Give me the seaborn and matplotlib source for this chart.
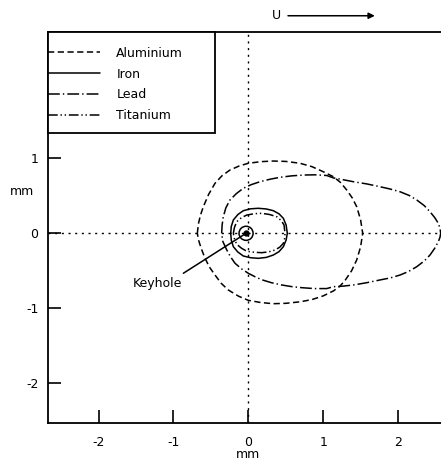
import matplotlib
matplotlib.use("Agg")
import matplotlib.pyplot as plt
from matplotlib.patches import Circle, Rectangle
import seaborn as sns
import pandas as pd

# Melt-pool outlines (mm), traced counter-clockwise from the leading edge
aluminium_x = [-0.681, -0.668, -0.640, -0.601, -0.530, -0.445, -0.350, -0.245, -0.120, 0.0, 0.170,
               0.334, 0.500, 0.691, 0.850, 1.002, 1.136, 1.230, 1.315, 1.390, 1.448, 1.500, 1.528,
               1.500, 1.448, 1.380, 1.292, 1.220, 1.136, 1.002, 0.850, 0.691, 0.500, 0.334, 0.170,
               0.0, -0.130, -0.267, -0.360, -0.445, -0.520, -0.578, -0.630, -0.665]
aluminium_y = [0.0, 0.120, 0.240, 0.355, 0.520, 0.668, 0.770, 0.845, 0.900, 0.935, 0.957,
               0.965, 0.960, 0.935, 0.890, 0.822, 0.756, 0.680, 0.578, 0.470, 0.355, 0.180, 0.0,
               -0.180, -0.356, -0.500, -0.630, -0.710, -0.770, -0.835, -0.885, -0.915, -0.935, -0.940, -0.925,
               -0.895, -0.840, -0.757, -0.670, -0.557, -0.450, -0.334, -0.200, -0.090]

iron_x = [-0.235, -0.228, -0.200, -0.140, -0.067, 0.030, 0.134, 0.240, 0.334, 0.410, 0.468, 0.505,
          0.521, 0.505, 0.468, 0.410, 0.334, 0.240, 0.134, 0.030, -0.067, -0.140, -0.200, -0.228]
iron_y = [0.0, 0.090, 0.178, 0.250, 0.302, 0.327, 0.334, 0.325, 0.302, 0.260, 0.200, 0.110,
          0.0, -0.090, -0.179, -0.245, -0.290, -0.322, -0.334, -0.326, -0.303, -0.250, -0.179, -0.090]

lead_x = [-0.356, -0.350, -0.334, -0.300, -0.245, -0.160, -0.067, 0.040, 0.156, 0.290, 0.424, 0.580,
          0.735, 0.890, 1.047, 1.136, 1.270, 1.403, 1.580, 1.759, 1.900, 2.027, 2.150, 2.250,
          2.350, 2.427, 2.490, 2.538, 2.560, 2.570, 2.560, 2.538, 2.490, 2.427, 2.350, 2.250,
          2.140, 2.027, 1.900, 1.759, 1.580, 1.403, 1.270, 1.136, 1.047, 0.880, 0.713, 0.580,
          0.446, 0.310, 0.179, 0.090, 0.0, -0.090, -0.178, -0.240, -0.289, -0.340]
lead_y = [0.0, 0.110, 0.222, 0.340, 0.445, 0.530, 0.601, 0.650, 0.689, 0.722, 0.748, 0.767,
          0.778, 0.781, 0.772, 0.740, 0.715, 0.689, 0.660, 0.622, 0.590, 0.555, 0.505, 0.445,
          0.370, 0.288, 0.210, 0.134, 0.070, 0.0, -0.055, -0.112, -0.200, -0.290, -0.370, -0.446,
          -0.510, -0.557, -0.595, -0.623, -0.660, -0.690, -0.705, -0.713, -0.738, -0.738, -0.726, -0.712,
          -0.690, -0.660, -0.620, -0.580, -0.534, -0.475, -0.400, -0.310, -0.220, -0.110]

titanium_x = [-0.200, -0.185, -0.155, -0.090, -0.020, 0.080, 0.179, 0.280, 0.379, 0.440, 0.477,
              0.490, 0.485, 0.468, 0.420, 0.357, 0.270, 0.179, 0.080, -0.020, -0.090, -0.155, -0.185]
titanium_y = [0.0, 0.080, 0.155, 0.210, 0.244, 0.262, 0.267, 0.252, 0.222, 0.170, 0.111,
              0.0, -0.070, -0.134, -0.185, -0.223, -0.248, -0.259, -0.253, -0.240, -0.200, -0.147, -0.075]

keyhole_x = -0.03
keyhole_y = 0.0
keyhole_r = 0.094

materials = ["Aluminium", "Iron", "Lead", "Titanium"]
outlines = {
    "Aluminium": (aluminium_x, aluminium_y),
    "Iron": (iron_x, iron_y),
    "Lead": (lead_x, lead_y),
    "Titanium": (titanium_x, titanium_y),
}
line_styles = {
    "Aluminium": (0, (4.5, 2.5)),
    "Iron": "-",
    "Lead": (0, (8.5, 2.2, 1.0, 2.2)),
    "Titanium": (0, (7.0, 2.0, 1.0, 2.0, 1.0, 2.0)),
}

x_ticks = [-2, -1, 0, 1, 2]
y_ticks = [-2, -1, 0, 1]

sns.set_theme(style="white")
plt.rcParams["font.family"] = ["DejaVu Sans"]
plt.rcParams["axes.unicode_minus"] = False
plt.rcParams["lines.scale_dashes"] = False
plt.rcParams["text.color"] = "black"
plt.rcParams["axes.labelcolor"] = "black"

fig = plt.figure(figsize=(4.41, 4.61), dpi=100)
ax = fig.add_axes([48 / 441, 38 / 461, 393 / 441, 391 / 461])

# Reference axes through the keyhole centre
ax.axhline(0, color="black", lw=1.0, linestyle=(0, (1.5, 3.3)), zorder=1)
ax.axvline(0, color="black", lw=1.0, linestyle=(0, (1.5, 3.3)), zorder=1)

for name in materials:
    xs, ys = outlines[name]
    df = pd.DataFrame({"x": list(xs) + [xs[0]], "y": list(ys) + [ys[0]]})
    sns.lineplot(data=df, x="x", y="y", sort=False, estimator=None, ax=ax,
                 color="black", lw=1.1, linestyle=line_styles[name], label=name, zorder=3)

ax.add_patch(Circle((keyhole_x, keyhole_y), keyhole_r, fill=False, ec="black", lw=1.1, zorder=4))
ax.plot([keyhole_x], [keyhole_y], "o", color="black", ms=3.5, zorder=5)

ax.annotate("Keyhole", xy=(keyhole_x, keyhole_y), xytext=(-1.22, -0.664),
            ha="center", va="center", fontsize=9, color="black",
            arrowprops=dict(arrowstyle="-", color="black", lw=1.1,
                            shrinkA=0, shrinkB=0, relpos=(0.93, 1.0)))

# Welding direction
ax.annotate("", xy=(1.69, 2.905), xytext=(0.53, 2.905), annotation_clip=False,
            arrowprops=dict(arrowstyle="-|>", color="black", lw=1.1, mutation_scale=9,
                            shrinkA=0, shrinkB=0))
ax.text(0.37, 2.905, "U", ha="center", va="center", fontsize=9, color="black", clip_on=False)

ax.set_xlim(-2.676, 2.574)
ax.set_ylim(-2.533, 2.688)
ax.set_xticks(x_ticks)
ax.set_yticks(y_ticks)
ax.set_xticklabels([str(t) for t in x_ticks])
ax.set_yticklabels([str(t) for t in y_ticks])
ax.tick_params(axis="both", direction="in", length=9.4, width=1.2, color="black",
               labelsize=9, labelcolor="black")
ax.tick_params(axis="x", pad=9.5, bottom=True)
ax.tick_params(axis="y", pad=7, left=True)

ax.set_xlabel("mm", fontsize=9, color="black")
ax.xaxis.set_label_coords(0.509, -0.0972)
ax.xaxis.label.set_va("bottom")
ax.set_ylabel("mm", fontsize=9, color="black", rotation=0)
ax.yaxis.set_label_coords(-0.066, 0.591)
ax.yaxis.label.set_va("center")
ax.yaxis.label.set_ha("center")

for side in ["left", "bottom", "top"]:
    ax.spines[side].set_color("black")
    ax.spines[side].set_linewidth(1.3)
ax.spines["right"].set_visible(False)

# Legend in a square box in the top-left corner
leg = ax.legend(loc="upper left", bbox_to_anchor=(0.0, 0.962), frameon=False,
                borderpad=0, borderaxespad=0, handlelength=4.16, handletextpad=1.3,
                labelspacing=0.62, fontsize=9, labelcolor="black")
for line in leg.get_lines():
    line.set_linewidth(1.1)
ax.add_patch(Rectangle((0.0, 0.742), 0.425, 0.258, transform=ax.transAxes,
                       fill=True, fc="white", ec="black", lw=1.3, zorder=6, clip_on=False))
leg.set_zorder(7)

fig.savefig("out.png", dpi=100)
